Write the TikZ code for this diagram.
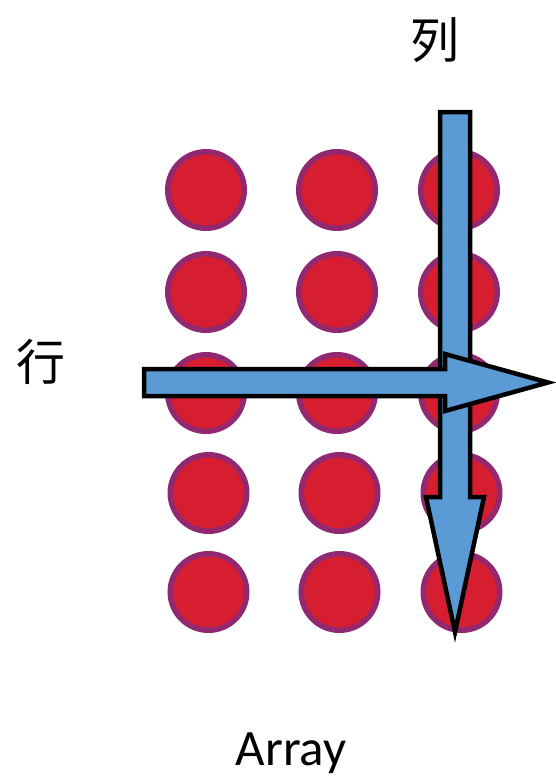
\documentclass[tikz,border=0pt]{standalone}
\usepackage{fontspec}
\setmainfont{Carlito}
\newfontfamily\cjk{Noto Sans CJK SC}
\usepackage{tikz}
\usetikzlibrary{positioning, calc}
\definecolor{dotred}{RGB}{214,30,48}
\definecolor{dotrim}{RGB}{145,40,112}
\definecolor{arrowblue}{RGB}{91,155,213}
\tikzset{
    dotnode/.style={circle, fill=dotred, draw=dotrim, line width=5.5pt, minimum size=76.5pt, inner sep=0pt},
    bigarrow/.style={fill=arrowblue, draw=black, line width=4.5pt, line join=miter},
    cjklabel/.style={font=\cjk\fontsize{49pt}{49pt}\selectfont, inner sep=0pt},
    caption/.style={font=\fontsize{51pt}{51pt}\selectfont, inner sep=0pt}
}
\begin{document}
\begin{tikzpicture}[x=1pt, y=-1pt]
    \useasboundingbox (0,0) rectangle (555,777);
    
    % Grid of dots
    \foreach \r/\y/\s in {1/190/0, 2/292/0, 3/393/0, 4/493/2.5, 5/592/2.5} {
        \node[dotnode] (d\r a) at (206+\s,\y) {};
        \node[dotnode] (d\r b) at (337+\s,\y) {};
        \node[dotnode] (d\r c) at (459+\s,\y) {};
    }
    
    % Column arrow
    \coordinate (colTop) at (455,112);
    \coordinate (colTip) at (455,632);
    \draw[bigarrow] ($(colTop)+(-15,0)$) -- ($(colTop)+(15,0)$) -- (470,497)
        -- (484,497) -- (colTip) -- (426,497) -- (440,497) -- cycle;
    
    % Row arrow
    \coordinate (rowTail) at (144,382.5);
    \coordinate (rowTip) at (548,382.5);
    \draw[bigarrow] ($(rowTail)+(0,-13.5)$) -- (445,369) -- (445,354)
        -- (rowTip) -- (445,411) -- (445,396) -- ($(rowTail)+(0,13.5)$) -- cycle;
    
    % Labels
    \node[cjklabel] (colLabel) at (435,40) {列};
    \node[cjklabel] (rowLabel) at (41,362) {行};
    \node[caption, anchor=base] (arrayLabel) at (291,765) {Array};
\end{tikzpicture}
\end{document}
